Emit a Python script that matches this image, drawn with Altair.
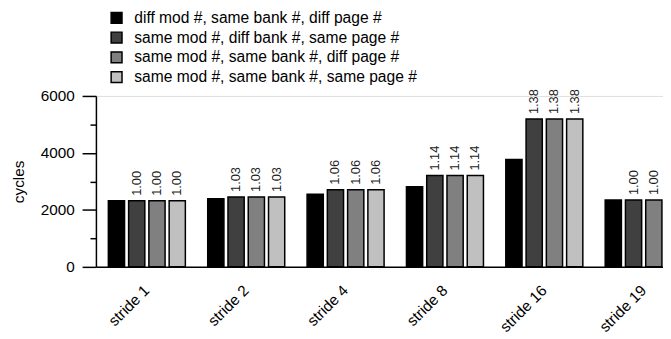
import altair as alt
import pandas as pd

strides = ["stride 1", "stride 2", "stride 4", "stride 8", "stride 16", "stride 19"]
series = [
    "diff mod #, same bank #, diff page #",
    "same mod #, diff bank #, same page #",
    "same mod #, same bank #, diff page #",
    "same mod #, same bank #, same page #",
]
diff_mod_same_bank_diff_page = [2320, 2390, 2550, 2810, 3770, 2345]
same_mod_diff_bank_same_page = [2320, 2455, 2705, 3205, 5190, 2345]
same_mod_same_bank_diff_page = [2320, 2455, 2705, 3205, 5190, 2345]
same_mod_same_bank_same_page = [2320, 2455, 2705, 3205, 5190, 2345]
ratio_labels = ["1.00", "1.03", "1.06", "1.14", "1.38", "1.00"]
colors = ["#000000", "#404040", "#808080", "#c0c0c0"]

all_values = [
    diff_mod_same_bank_diff_page,
    same_mod_diff_bank_same_page,
    same_mod_same_bank_diff_page,
    same_mod_same_bank_same_page,
]
rows = []
for si, s in enumerate(series):
    for gi, g in enumerate(strides):
        rows.append({
            "stride": g,
            "series": s,
            "cycles": all_values[si][gi],
            "label": ratio_labels[gi] if si > 0 else "",
        })
df = pd.DataFrame(rows)

FONT = "Liberation Sans"
FS = 15.5

x_enc = alt.X(
    "stride:N", sort=strides, title=None,
    scale=alt.Scale(range=[0, 606], paddingInner=0.225, paddingOuter=0.125),
    axis=alt.Axis(
        ticks=False, labelAngle=315, labelAlign="right", labelBaseline="middle",
        labelPadding=21, labelFontSize=FS, labelColor="black", labelFont=FONT,
        domainColor="black", domainWidth=1.5,
    ),
)
xoff_enc = alt.XOffset("series:N", sort=series, scale=alt.Scale(paddingInner=0.2))
y_enc = alt.Y(
    "cycles:Q", title="cycles",
    scale=alt.Scale(domain=[0, 6000], nice=False),
    axis=alt.Axis(
        values=[0, 1000, 2000, 3000, 4000, 5000, 6000], format="d",
        labelExpr="datum.value % 2000 === 0 ? datum.label : ''",
        tickSize=14, tickWidth=1.5, tickColor="black",
        tickDash={"condition": {"test": "datum.value % 2000 === 0", "value": [20, 1]}, "value": [6, 30]},
        labelPadding=8, labelFontSize=FS, labelColor="black", labelFont=FONT,
        domainColor="black", domainWidth=1.5, grid=False,
        titleFontSize=FS, titleFontWeight="normal", titleFont=FONT, titleColor="black",
        titlePadding=14,
    ),
)

base = alt.Chart(df)
bars = base.mark_bar(stroke="black", strokeWidth=1.5).encode(
    x=x_enc, xOffset=xoff_enc, y=y_enc,
    color=alt.Color(
        "series:N", sort=series,
        scale=alt.Scale(domain=series, range=colors),
        legend=alt.Legend(
            title=None, orient="none", legendX=13, legendY=-87,
            symbolType="square", symbolSize=121, symbolStrokeColor="black",
            symbolStrokeWidth=1.5, symbolOpacity=1,
            labelFontSize=15.8, labelFont=FONT, labelColor="black",
            labelOffset=10, rowPadding=2, padding=0, labelLimit=400,
        ),
    ),
)
texts = base.mark_text(
    angle=270, align="left", baseline="middle", dx=5,
    fontSize=13, font=FONT, color="#1a1a1a",
).encode(x=x_enc, xOffset=xoff_enc, y=y_enc, text="label:N")

chart = (bars + texts).properties(
    width=574, height=173,
    autosize=alt.AutoSizeParams(type="none"),
    padding={"left": 89, "top": 87, "right": 0, "bottom": 71},
).configure_view(stroke=None).configure(font=FONT)

chart.save("out.html", embed_options={"renderer": "svg", "actions": False})
